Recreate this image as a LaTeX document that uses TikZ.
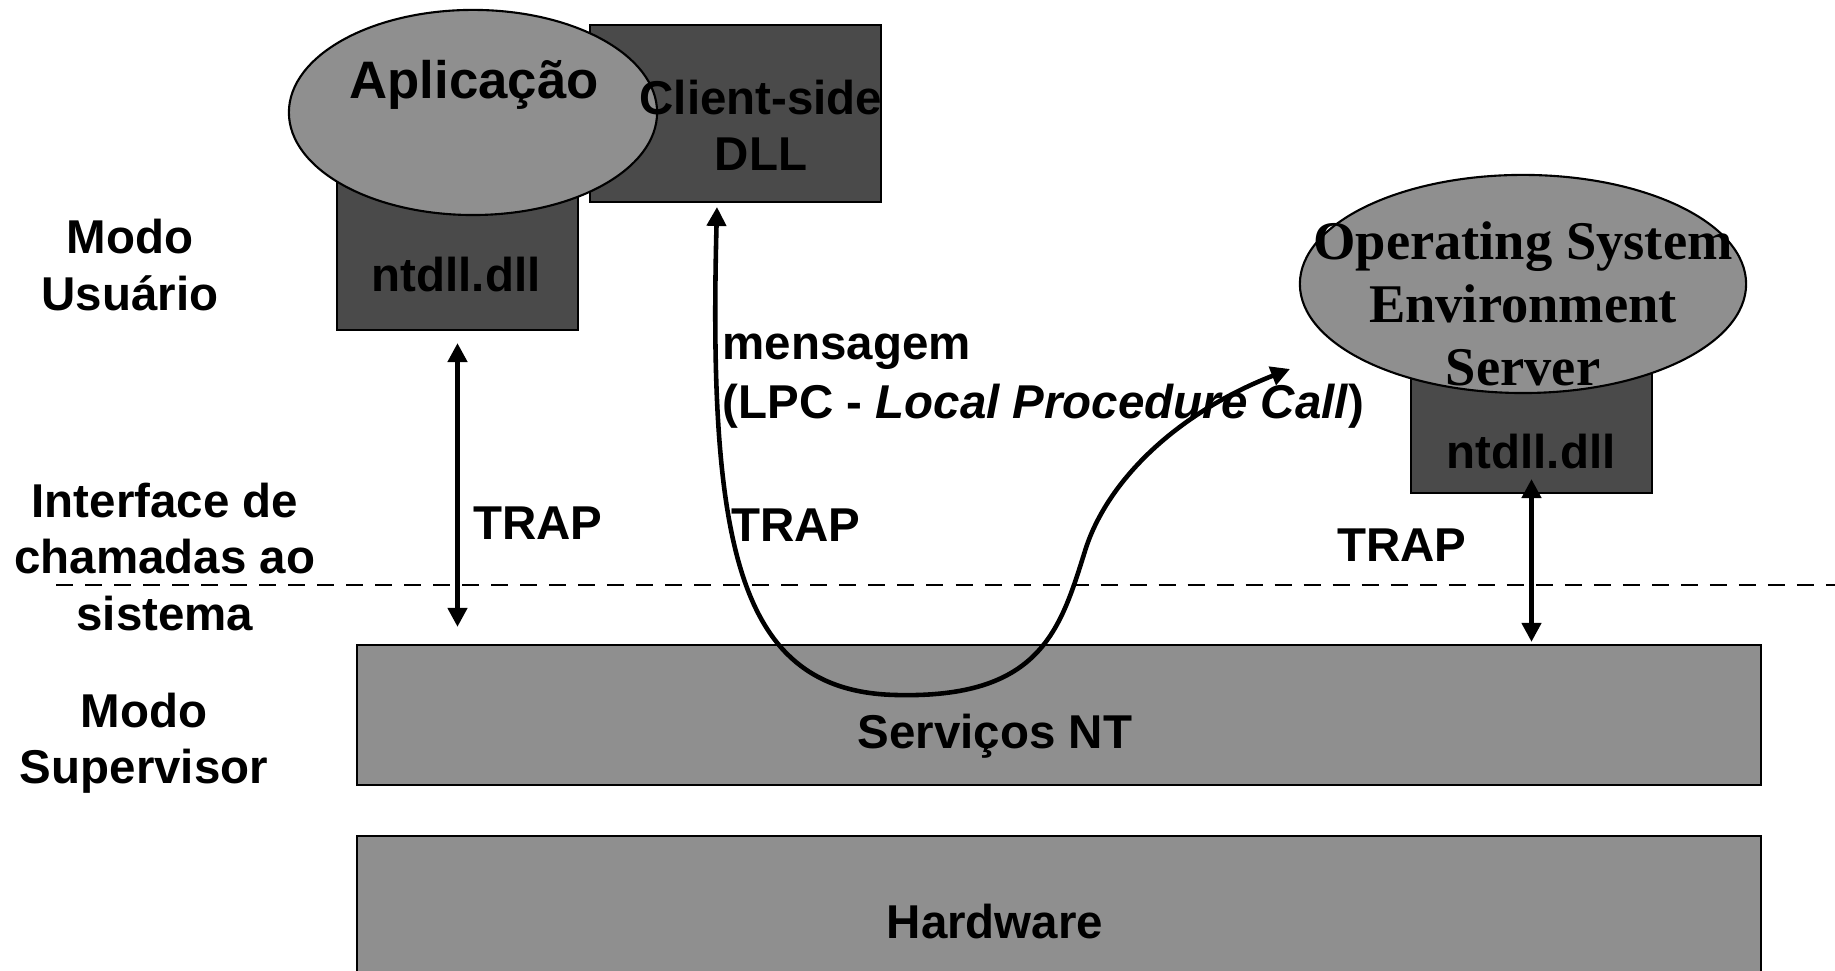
\documentclass[tikz,border=0pt]{standalone}
\usepackage{fontspec}
\setmainfont{Liberation Sans}
\newfontfamily\serverfont{Liberation Serif}
\usetikzlibrary{arrows.meta,shapes.geometric,positioning}

\definecolor{lightgrey}{RGB}{143,143,143}
\definecolor{darkgrey}{RGB}{74,74,74}

\begin{document}
\begin{tikzpicture}[x=0.01cm,y=0.01cm,
  lightbox/.style={draw=black, line width=0.6pt, fill=lightgrey, inner sep=0pt},
  darkbox/.style={draw=black, line width=0.6pt, fill=darkgrey, inner sep=0pt},
  txt/.style={font=\fontsize{13.5}{16}\selectfont\bfseries, align=center, inner sep=0pt},
  trap/.style={{Triangle[length=0.19cm,width=0.19cm]}-{Triangle[length=0.19cm,width=0.19cm]}, line width=1.3pt},
]
  % canvas
  \useasboundingbox (0,0) rectangle (1835,971);
  \clip (0,0) rectangle (1835,971);

  % user mode boxes
  \node[darkbox, minimum width=2.91cm, minimum height=1.77cm] (cdll) at (735.5,857.5) {};
  \node[darkbox, minimum width=2.41cm, minimum height=1.56cm] (ntdllA) at (457.5,719) {};
  \node[lightbox, ellipse, minimum width=3.68cm, minimum height=2.05cm] (app) at (473,858.5) {};
  \node[darkbox, minimum width=2.41cm, minimum height=1.30cm] (ntdllB) at (1531.5,543) {};
  \node[lightbox, ellipse, minimum width=4.46cm, minimum height=2.18cm] (oses) at (1523,687) {};

  % kernel boxes
  \node[lightbox, minimum width=14.04cm, minimum height=1.40cm] (srv) at (1059,256) {};
  \node[lightbox, minimum width=14.04cm, minimum height=1.60cm] (hw) at (1059,55) {};

  % texts in the boxes
  \node[txt, font=\fontsize{15}{18}\selectfont\bfseries] (apptxt) at (474,886) {Aplicação};
  \node[txt] (cdlltxt) at (761,846) {Client-side\\DLL};
  \node[txt] (ntdllAtxt) at (456,696) {ntdll.dll};
  \node[txt, font=\serverfont\fontsize{15.5}{18}\selectfont\bfseries] (osestxt) at (1523,667) {Operating System\\Environment\\Server};
  \node[txt] (ntdllBtxt) at (1531,519) {ntdll.dll};
  \node[txt] (srvtxt) at (995,235) {Serviços NT};
  \node[txt] (hwtxt) at (995,49) {Hardware};

  % modes
  \node[txt] (user) at (130,706) {Modo\\Usuário};
  \node[txt] (iface) at (165,414) {Interface de\\chamadas ao\\sistema};
  \node[txt] (super) at (144,228) {Modo\\Supervisor};

  % boundary
  \draw[line width=0.6pt, dash pattern=on 0.17cm off 0.12cm] (56,386) -- (1835,386);

  % traps
  \draw[trap, shorten <=0.12cm, shorten >=0.17cm] (ntdllA.south) -- (ntdllA.south |- srv.north);
  \draw[trap, shorten <=-0.15cm, shorten >=0.02cm] (ntdllB.south) -- (ntdllB.south |- srv.north);
  \node[txt] (trapA) at (538,448) {TRAP};
  \node[txt] (trapB) at (796,446) {TRAP};
  \node[txt] (trapC) at (1402,426) {TRAP};

  % message
  \node[txt, font=\fontsize{13.5}{16.7}\selectfont\bfseries, align=left, anchor=west] (msg) at (722,590) {mensagem\\(LPC - \textit{Local Procedure Call})};
  \coordinate (lpcA) at (717,764);
  \coordinate (lpcB) at (1290,602);
  \draw[trap] (lpcA) .. controls (708,420) and (740,280) .. (895,276)
    .. controls (1040,272) and (1060,340) .. (1085,420)
    .. controls (1105,485) and (1170,555) .. (lpcB);
\end{tikzpicture}
\end{document}
